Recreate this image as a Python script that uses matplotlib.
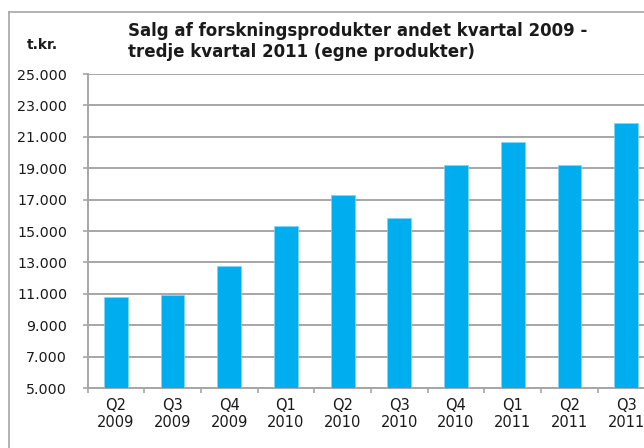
import matplotlib
matplotlib.use("Agg")
import matplotlib.pyplot as plt
from matplotlib.lines import Line2D

plt.rcParams['font.family'] = ['DejaVu Sans']

categories = ["Q2\n2009", "Q3\n2009", "Q4\n2009", "Q1\n2010", "Q2\n2010",
              "Q3\n2010", "Q4\n2010", "Q1\n2011", "Q2\n2011", "Q3\n2011"]
values = [10800, 10900, 12800, 15350, 17300, 15800, 19200, 20700, 19200, 21900]
yticks = [5000, 7000, 9000, 11000, 13000, 15000, 17000, 19000, 21000, 23000, 25000]
ytick_labels = ["5.000", "7.000", "9.000", "11.000", "13.000", "15.000",
                "17.000", "19.000", "21.000", "23.000", "25.000"]
title = "Salg af forskningsprodukter andet kvartal 2009 -\ntredje kvartal 2011 (egne produkter)"
unit = "t.kr."

W, H = 644, 448
fig = plt.figure(figsize=(W / 100, H / 100), dpi=100)

# outer chart frame (partially visible)
fig.add_artist(Line2D([9 / W, 9 / W], [0, 1 - 12 / H], transform=fig.transFigure,
                      color="#a6a6a6", lw=1.2))
fig.add_artist(Line2D([9 / W, 1], [1 - 12 / H, 1 - 12 / H], transform=fig.transFigure,
                      color="#a6a6a6", lw=1.2))

left, right = 87.5, 654.5
top, bottom = 74, 388
ax = fig.add_axes([left / W, (H - bottom) / H, (right - left) / W, (bottom - top) / H])

x = list(range(len(categories)))
ax.bar(x, values, width=0.42, color="#00AEEF", edgecolor="#7fd6f7", linewidth=0.5,
       zorder=3)
ax.set_xlim(-0.5, len(categories) - 0.5)
ax.set_ylim(5000, 25000)
ax.set_yticks(yticks)
ax.set_yticklabels(ytick_labels, fontsize=10.3, color="#1a1a1a")
ax.yaxis.grid(True, color="#a6a6a6", linewidth=1.4, zorder=0)
ax.set_axisbelow(True)

ax.set_xticks(x)
ax.set_xticklabels(categories, fontsize=10.5, color="#1a1a1a", linespacing=1.15)
ax.tick_params(axis='x', length=0, pad=7.5)
ax.set_xticks([i + 0.5 for i in range(-1, len(categories))], minor=True)
ax.tick_params(axis='x', which='minor', length=3.6, color="#a6a6a6", width=1.2)
ax.tick_params(axis='y', length=3.6, color="#a6a6a6", width=1.2, pad=11)

for s in ['top', 'right']:
    ax.spines[s].set_visible(False)
for s in ['left', 'bottom']:
    ax.spines[s].set_color("#a6a6a6")
    ax.spines[s].set_linewidth(1.4)

fig.text(128 / W, 1 - 22 / H, title, fontsize=12, fontweight='bold', ha='left', va='top',
         linespacing=1.2, color="#1a1a1a")
fig.text(42 / W, 1 - 45 / H, unit, fontsize=10, fontweight='bold', ha='center', va='center',
         color="#1a1a1a")

fig.savefig("out.png", dpi=100)
